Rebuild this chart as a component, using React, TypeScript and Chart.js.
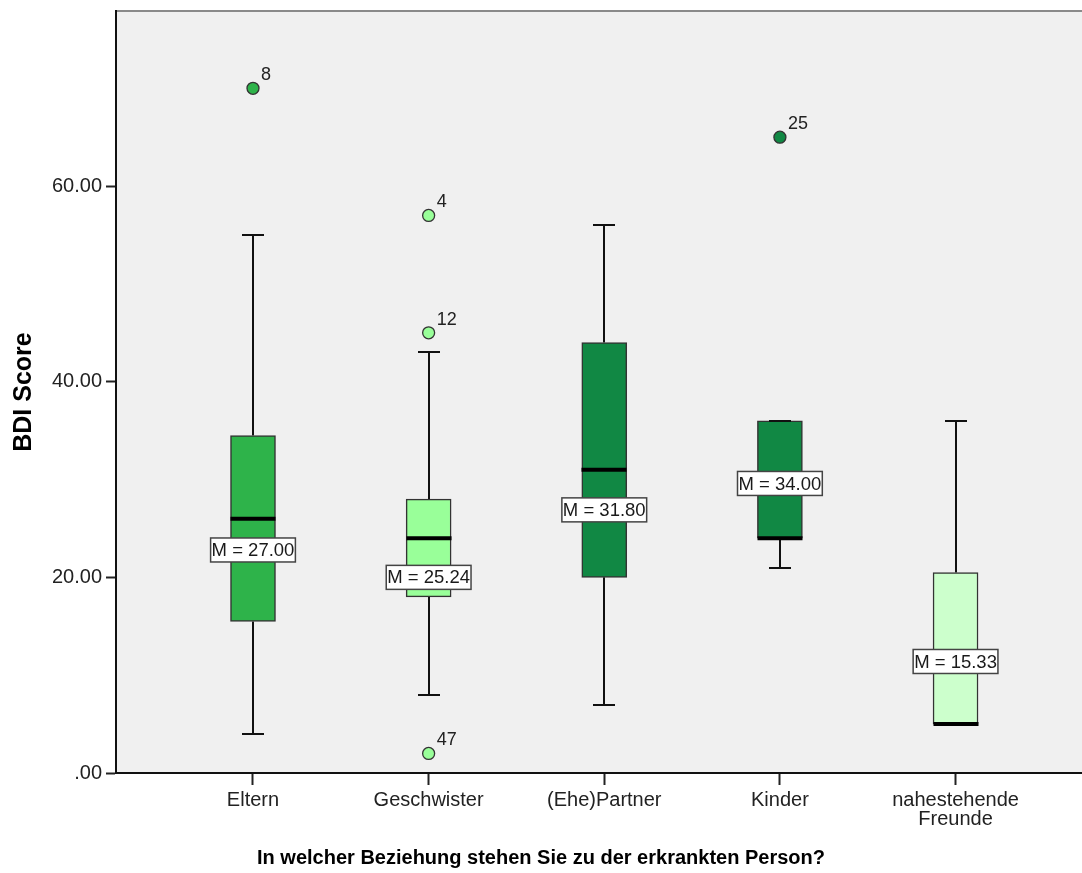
import { useEffect, useRef } from "react";
import { Chart, registerables } from "chart.js";

Chart.register(...registerables);

// Relationship groups (x axis)
const categories: (string | string[])[] = [
  "Eltern",
  "Geschwister",
  "(Ehe)Partner",
  "Kinder",
  ["nahestehende", "Freunde"],
];

// Box plot statistics of the BDI score per group
const whiskerLow = [4, 8, 7, 21, 5];
const q1 = [15.5, 18, 20, 24, 5];
const median = [26, 24, 31, 24, 5];
const q3 = [34.5, 28, 44, 36, 20.5];
const whiskerHigh = [55, 43, 56, 36, 36];
const means = [27.0, 25.24, 31.8, 34.0, 15.33];
// value at which each "M = ..." label box is anchored
const meanLabelAt = [22.8, 20.0, 26.9, 29.6, 11.4];

// Outlying cases
const outlierGroup = [0, 1, 1, 1, 3];
const outlierValue = [70, 57, 45, 2, 65];
const outlierCase = ["8", "4", "12", "47", "25"];

const yTicks = [0, 20, 40, 60];

const boxColors = ["#2eb34a", "#99ff99", "#118844", "#118844", "#ccffcc"];

const FONT = "'Liberation Sans', Arial, Helvetica, sans-serif";

const boxPlotPlugin = {
  id: "boxPlotExtras",
  beforeDraw(chart: any) {
    const { ctx, chartArea: a } = chart;
    ctx.save();
    ctx.fillStyle = "#f0f0f0";
    ctx.fillRect(a.left, a.top, chart.width - a.left, a.bottom - a.top);
    ctx.strokeStyle = "#8a8a8a";
    ctx.lineWidth = 2;
    ctx.beginPath();
    ctx.moveTo(a.left, a.top);
    ctx.lineTo(chart.width, a.top);
    ctx.stroke();
    ctx.restore();
  },
  beforeDatasetsDraw(chart: any) {
    const { ctx } = chart;
    const xs = chart.scales.x;
    const ys = chart.scales.y;
    ctx.save();
    ctx.strokeStyle = "#111";
    ctx.lineWidth = 2;
    categories.forEach((_, i) => {
      const cx = Math.round(xs.getPixelForValue(i));
      const segs = [
        [q3[i], whiskerHigh[i]],
        [q1[i], whiskerLow[i]],
      ];
      segs.forEach(([from, to]) => {
        const y0 = ys.getPixelForValue(from);
        const y1 = ys.getPixelForValue(to);
        ctx.beginPath();
        ctx.moveTo(cx, y0);
        ctx.lineTo(cx, y1);
        ctx.stroke();
      });
    });
    ctx.restore();
  },
  afterDatasetsDraw(chart: any) {
    const { ctx } = chart;
    const xs = chart.scales.x;
    const ys = chart.scales.y;
    ctx.save();
    // whisker caps and medians
    categories.forEach((_, i) => {
      const cx = Math.round(xs.getPixelForValue(i));
      ctx.strokeStyle = "#111";
      ctx.lineWidth = 2;
      [whiskerHigh[i], whiskerLow[i]].forEach((v) => {
        const y = Math.round(ys.getPixelForValue(v));
        ctx.beginPath();
        ctx.moveTo(cx - 11, y);
        ctx.lineTo(cx + 11, y);
        ctx.stroke();
      });
      const my = ys.getPixelForValue(median[i]);
      ctx.strokeStyle = "#000";
      ctx.lineWidth = 4;
      ctx.beginPath();
      ctx.moveTo(cx - 22.5, my);
      ctx.lineTo(cx + 22.5, my);
      ctx.stroke();
    });
    // mean labels
    ctx.font = `18.5px ${FONT}`;
    ctx.textAlign = "center";
    ctx.textBaseline = "middle";
    categories.forEach((_, i) => {
      const cx = xs.getPixelForValue(i);
      const cy = ys.getPixelForValue(meanLabelAt[i]);
      const text = `M = ${means[i].toFixed(2)}`;
      const w = ctx.measureText(text).width + 2;
      const h = 24;
      ctx.fillStyle = "#ffffff";
      ctx.fillRect(cx - w / 2, cy - h / 2, w, h);
      ctx.strokeStyle = "#444";
      ctx.lineWidth = 1.5;
      ctx.strokeRect(cx - w / 2, cy - h / 2, w, h);
      ctx.fillStyle = "#1a1a1a";
      ctx.fillText(text, cx, cy + 1);
    });
    // outlier case numbers
    ctx.font = `18px ${FONT}`;
    ctx.textAlign = "left";
    ctx.textBaseline = "alphabetic";
    ctx.fillStyle = "#222";
    outlierValue.forEach((v, k) => {
      const px = xs.getPixelForValue(outlierGroup[k]);
      const py = ys.getPixelForValue(v);
      ctx.fillText(outlierCase[k], px + 8, py - 8);
    });
    ctx.restore();
  },
  afterDraw(chart: any) {
    const { ctx, chartArea: a } = chart;
    ctx.save();
    ctx.fillStyle = "#000";
    ctx.textAlign = "center";
    ctx.textBaseline = "middle";
    ctx.font = `bold 20px ${FONT}`;
    ctx.fillText(
      "In welcher Beziehung stehen Sie zu der erkrankten Person?",
      chart.width / 2,
      858
    );
    ctx.translate(24, (a.top + a.bottom) / 2);
    ctx.rotate(-Math.PI / 2);
    ctx.font = `bold 25px ${FONT}`;
    ctx.fillText("BDI Score", 0, 0);
    ctx.restore();
  },
};

export default function App() {
  const canvasRef = useRef<HTMLCanvasElement | null>(null);

  useEffect(() => {
    const canvas = canvasRef.current;
    if (!canvas) return;

    const boxData = categories.map((_, i) => ({ x: i, y: [q1[i], q3[i]] }));
    const outlierData = outlierValue.map((v, k) => ({ x: outlierGroup[k], y: v }));
    const outlierColors = outlierGroup.map((g) => boxColors[g]);

    const chart = new Chart(canvas, {
      type: "bar",
      data: {
        datasets: [
          {
            type: "bar",
            data: boxData as any,
            backgroundColor: boxColors,
            borderColor: "#333",
            borderWidth: 1.5,
            borderSkipped: false,
            barThickness: 45,
            grouped: false,
          } as any,
          {
            type: "scatter",
            data: outlierData,
            pointRadius: 6,
            pointHoverRadius: 6,
            pointBackgroundColor: outlierColors,
            pointBorderColor: "#333",
            pointBorderWidth: 1.3,
          } as any,
        ],
      },
      options: {
        animation: false,
        responsive: false,
        layout: {
          autoPadding: false,
          padding: { top: 11, left: 0, right: 0, bottom: 0 },
        },
        plugins: {
          legend: { display: false },
          tooltip: { enabled: false },
        },
        scales: {
          x: {
            type: "linear",
            offset: false,
            min: -0.78,
            max: 4.72,
            afterBuildTicks: (s: any) => {
              s.ticks = categories.map((_, i) => ({ value: i }));
            },
            afterFit: (s: any) => {
              s.height = 100;
              s.paddingLeft = 0;
              s.paddingRight = 0;
            },
            ticks: {
              autoSkip: false,
              maxRotation: 0,
              padding: 6,
              color: "#222",
              font: { family: FONT, size: 20, lineHeight: 0.95 },
              callback: (v: any) => categories[v as number],
            },
            grid: {
              offset: false,
              drawOnChartArea: false,
              drawTicks: true,
              tickLength: 12,
              tickWidth: 2,
              tickColor: "#222",
            },
            border: { display: true, color: "#111", width: 2 },
          },
          y: {
            type: "linear",
            min: 0,
            max: 77.9,
            afterBuildTicks: (s: any) => {
              s.ticks = yTicks.map((v) => ({ value: v }));
            },
            afterFit: (s: any) => {
              s.width = 116;
              s.paddingTop = 0;
              s.paddingBottom = 0;
            },
            ticks: {
              padding: 4,
              color: "#222",
              font: { family: FONT, size: 20 },
              callback: (v: any) => (v === 0 ? ".00" : Number(v).toFixed(2)),
            },
            grid: {
              drawOnChartArea: false,
              drawTicks: true,
              tickLength: 10,
              tickWidth: 2,
              tickColor: "#222",
            },
            border: { display: true, color: "#111", width: 2 },
          },
        },
      },
      plugins: [boxPlotPlugin],
    });

    return () => chart.destroy();
  }, []);

  return (
    <div
      style={{
        position: "absolute",
        left: 0,
        top: 0,
        width: 1082,
        height: 873,
        background: "#ffffff",
      }}
    >
      <canvas ref={canvasRef} width={1082} height={873} />
    </div>
  );
}
